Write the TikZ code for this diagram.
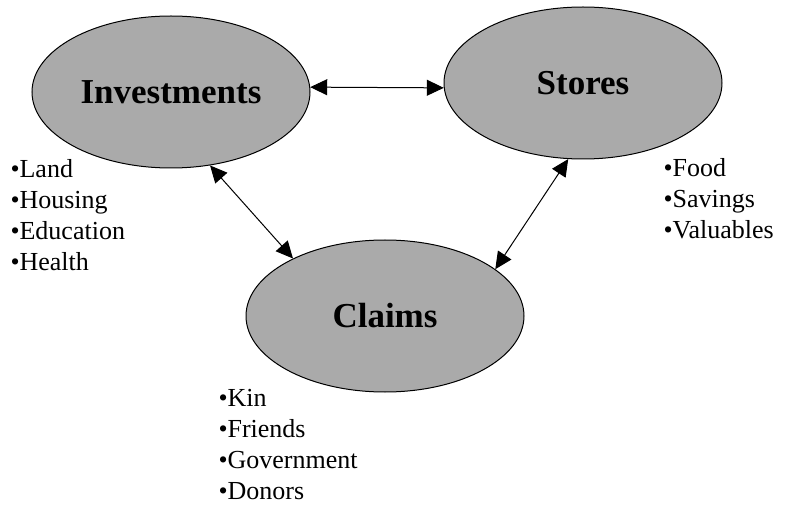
\documentclass[tikz,border=0pt]{standalone}
\usepackage{fontspec}
\setmainfont{Liberation Serif}
\usetikzlibrary{arrows.meta,shapes.geometric}
\usepackage{xcolor}
\definecolor{blobgrey}{RGB}{170,170,170}

\begin{document}
\begin{tikzpicture}[x=0.75pt,y=-0.75pt,<->,>={Triangle[length=12.75pt,width=12pt]},line width=0.75pt,
  blob/.style={ellipse,draw,fill=blobgrey,minimum width=208.5pt,minimum height=114pt,inner sep=0pt,font=\fontsize{26.25}{30}\selectfont\bfseries},
  items/.style={anchor=north west,inner sep=0pt,align=left,font=\fontsize{19.5}{23.25}\selectfont}]
  \useasboundingbox (0,0) rectangle (797,506);
  \node[blob] 		(I) at (171,92) 	{Investments};
  \node[blob] 		(S) at (583,83) 	{Stores};
  \node[blob] 		(C) at (385,316) 	{Claims};
  \node[items] 		(IL) at (10,159) 	{•Land\\•Housing\\•Education\\•Health};
  \node[items] 		(SL) at (663,158) 	{•Food\\•Savings\\•Valuables};
  \node[items] 		(CL) at (218,389) 	{•Kin\\•Friends\\•Government\\•Donors};

  \path 	(I.2) edge (S.182)
		(I.-62.5) edge (C.148.7)
		(S.259) edge (C.23.4);
\end{tikzpicture}
\end{document}
